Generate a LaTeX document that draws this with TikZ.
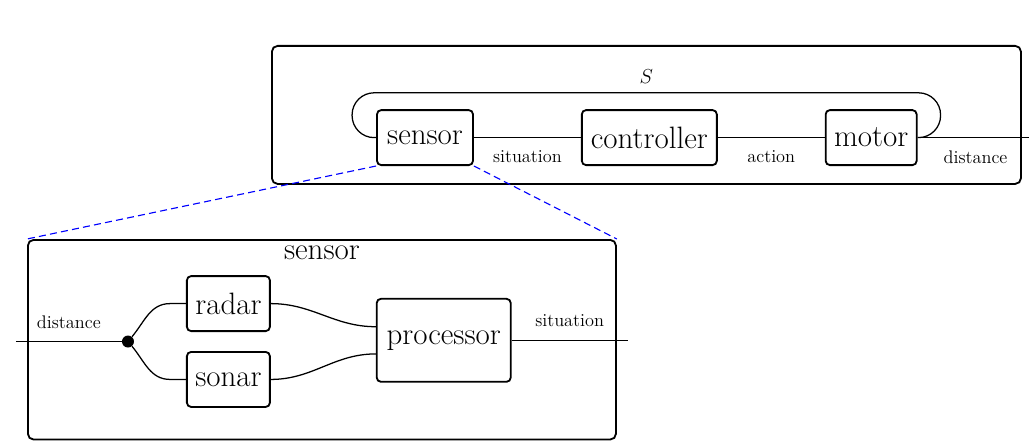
\documentclass[tikz,border=0pt]{standalone}
\usepackage{xcolor}
\usepackage{tikz}
\usetikzlibrary{positioning,calc}

\begin{document}
\begin{tikzpicture}[
    blk/.style={draw,rounded corners=3pt,line width=1.3pt,minimum height=1.375cm,
      inner xsep=0pt,font=\fontsize{22}{26}\selectfont},
    frm/.style={draw,rounded corners=4pt,line width=1.3pt,inner sep=0pt},
    wire/.style={line width=0.9pt},
    lbl/.style={font=\fontsize{13}{15}\selectfont,inner sep=2pt},
    dot/.style={circle,fill,inner sep=0pt,minimum size=0.3cm},
    zoomln/.style={blue,dash pattern=on 5pt off 3pt,line width=0.8pt}]
  \useasboundingbox (0,0) rectangle (25.725,-11);
  % top level: sensor -> controller -> motor
  \node[frm,minimum width=18.725cm,minimum height=3.45cm,anchor=north west] (system) at (6.775,-1.125) {};
  \node[blk,minimum width=2.4cm] (sensor) at (10.625,-3.44) {sensor};
  \node[blk,minimum width=3.375cm,right=2.675cm of sensor] (controller) {controller};
  \node[blk,minimum width=2.275cm,right=2.675cm of controller] (motor) {motor};
  \node[font=\fontsize{14}{16}\selectfont] (S) at ($(system.north)+(0,-0.8)$) {$S$};
  \coordinate (out) at ($(motor.east)+(2.9,0)$);
  \draw[wire,rounded corners=0.55cm] (sensor.west) -| ($(sensor.west)+(-0.6,1.12)$)
    -| ($(motor.east)+(0.575,0)$) -- (motor.east);
  \draw[wire] (sensor) -- node[lbl,below=7pt] {situation} (controller);
  \draw[wire] (controller) -- node[lbl,below=7pt] {action} (motor);
  \draw[wire] (motor) -- node[lbl,below=7pt] {distance} (out);
  % inside the sensor
  \node[frm,minimum width=14.7cm,minimum height=4.99cm,anchor=north west] (detail) at (0.675,-5.975) {};
  \node[font=\fontsize{22}{26}\selectfont] (title) at ($(detail.north)+(0,-0.35)$) {sensor};
  \draw[zoomln] (sensor.south west) -- (detail.north west);
  \draw[zoomln] (sensor.south east) -- (detail.north east);
  \node[blk,minimum width=2.075cm] (radar) at (5.71,-7.59) {radar};
  \node[blk,minimum width=2.075cm,below=0.475cm of radar] (sonar) {sonar};
  \node[blk,minimum width=3.35cm,minimum height=2.075cm,anchor=west] (processor)
    at ($(radar.east)!0.5!(sonar.east)+(2.625,0.03)$) {processor};
  \node[dot] (split) at ($(radar.west)!0.5!(sonar.west)+(-1.45,0)$) {};
  \coordinate (in) at ($(split)+(-2.8,0)$);
  \coordinate (res) at ($(processor.east)+(2.9,0)$);
  \draw[wire] (in) -- node[lbl,above=7pt] {distance} (split);
  \draw[wire] (split) to[out=50,in=180] ($(radar.west)+(-0.4,0)$) -- (radar.west);
  \draw[wire] (split) to[out=-50,in=180] ($(sonar.west)+(-0.4,0)$) -- (sonar.west);
  \draw[wire] (radar.east) to[out=0,in=180] ($(processor.west)+(0,0.34)$);
  \draw[wire] (sonar.east) to[out=0,in=180] ($(processor.west)+(0,-0.34)$);
  \draw[wire] (processor) -- node[lbl,above=7pt] {situation} (res);
\end{tikzpicture}
\end{document}
